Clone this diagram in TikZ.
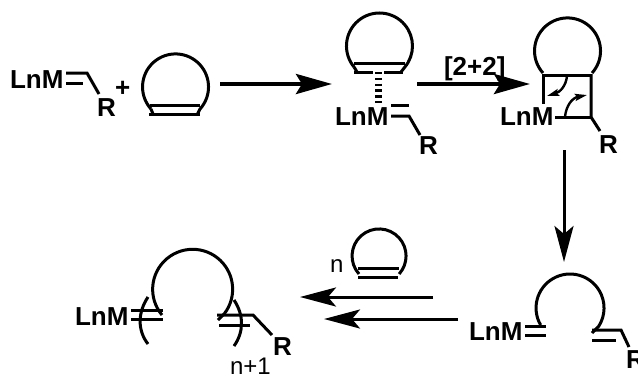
\documentclass[tikz,border=0pt]{standalone}
\usepackage{fontspec}
\setmainfont{Liberation Sans}
\usetikzlibrary{arrows.meta}
\tikzset{
  x=1pt,y=-1pt,
  bond/.style={line width=3pt,line cap=butt},
  ringline/.style={line width=3pt},
  lbl/.style={font=\fontsize{26}{26}\selectfont\bfseries,anchor=base west,inner sep=0pt,outer sep=0pt},
  thin lbl/.style={font=\fontsize{24}{24}\selectfont,anchor=base west,inner sep=0pt,outer sep=0pt},
  bigarrow/.style={line width=4pt,-{Stealth[length=36pt,width=20pt,inset=6pt]}},
  midarrow/.style={line width=3pt,-{Stealth[length=36pt,width=19pt,inset=8pt]}},
  curlarrow/.style={line width=2.4pt,-{Stealth[length=12pt,width=7pt,inset=2pt]}},
}
\begin{document}
\begin{tikzpicture}
\useasboundingbox (0,0) rectangle (638,376);
\path[clip] (0,0) rectangle (638,376);
% Scene 1
\node[lbl] (L1) at (10,88) {LnM};
\node[lbl] (R1) at (97,116) {R};
\node[lbl] (P1) at (115,96) {+};
\draw[bond] (66,73) -- (87,73) -- (99,94);
\draw[bond] (66,83) -- (83,83);
\draw[ringline] (151,109) arc[start angle=138,end angle=402,radius=33] -- (197,115);
\draw[ringline] (151,109) -- (153,114);
\draw[bond] (150,105) -- (200,105);
\draw[bond] (149,114) -- (200,114);
% Arrow 1
\coordinate (a1s) at (220,84); \coordinate (a1e) at (332,84);
\draw[bigarrow] (a1s) -- (a1e);
% Scene 2
\draw[ringline] (354.2,67.2) arc[start angle=140,end angle=400,radius=33] -- (401,72);
\draw[ringline] (354.2,67.2) -- (357,72);
\draw[bond] (354,63) -- (405,63);
\draw[bond] (354,72) -- (373,72);
\draw[bond] (384,72) -- (403,72);
\draw[line width=7pt,dash pattern=on 2.4pt off 3.4pt] (378,72) -- (378,103);
\node[lbl] (L2) at (335,125) {LnM};
\node[lbl] (R2) at (419,154) {R};
\draw[bond] (391,105) -- (409,105);
\draw[bond] (391,116) -- (409,116) -- (420,135);
% Arrow 2
\node[lbl] (T2) at (444,75) {[2+2]};
\coordinate (a2s) at (417,84); \coordinate (a2e) at (530,84);
\draw[bigarrow] (a2s) -- (a2e);
% Scene 3
\draw[ringline] (543,73) arc[start angle=138,end angle=402,radius=33];
\draw[bond] (543,75) -- (592,75);
\draw[bond] (543,74) -- (543,104);
\draw[bond] (591,74) -- (591,117) -- (600,131);
\draw[bond] (555,117) -- (592,117);
\node[lbl] (L3) at (500,125) {LnM};
\node[lbl] (R3) at (599,153) {R};
\coordinate (c1s) at (567,76); \coordinate (c1e) at (547,96);
\draw[curlarrow] (c1s) .. controls (566,86) and (560,92) .. (c1e);
\coordinate (c2s) at (565,117); \coordinate (c2e) at (587,95);
\draw[curlarrow] (c2s) .. controls (566,106) and (572,98) .. (c2e);
% Arrow 3
\coordinate (a3s) at (564,150); \coordinate (a3e) at (564,262);
\draw[midarrow] (a3s) -- (a3e);
% Scene 4
\draw[ringline] (540.6,325) arc[start angle=150,end angle=392,radius=34] -- (592,333);
\node[lbl] (L4) at (469,340) {LnM};
\node[lbl] (R4) at (626,368) {R};
\draw[bond] (525,326) -- (546,326);
\draw[bond] (525,335) -- (546,335);
\draw[bond] (592,330) -- (621,330) -- (629,347);
\draw[bond] (592,340) -- (616,340);
% Arrows 4 & 5
\coordinate (a4s) at (433,297); \coordinate (a4e) at (300,297);
\coordinate (a5s) at (458,319); \coordinate (a5e) at (324,319);
\draw[midarrow] (a4s) -- (a4e);
\draw[midarrow] (a5s) -- (a5e);
% n ring
\node[thin lbl] (N1) at (330,272) {n};
\draw[ringline] (359,274) arc[start angle=138,end angle=402,radius=27];
\draw[bond] (358,268) -- (399,268);
\draw[bond] (358,277) -- (398,277);
% Scene 5
\draw[ringline] (162,315) arc[start angle=140,end angle=397,radius=40] -- (218,320);
\node[lbl] (L5) at (75,325) {LnM};
\node[lbl] (R5) at (273,355) {R};
\node[thin lbl] (N2) at (230,374) {n+1};
\draw[bond] (131,310) -- (163,310);
\draw[bond] (131,319) -- (163,319);
\draw[bond] (217,315) -- (253,315) -- (272,335);
\draw[bond] (219,325) -- (250,325);
\draw[ringline] (148,297) .. controls (138,312) and (137,330) .. (148,344);
\draw[ringline] (234,300) .. controls (244,315) and (244,332) .. (234,346);
\end{tikzpicture}
\end{document}
